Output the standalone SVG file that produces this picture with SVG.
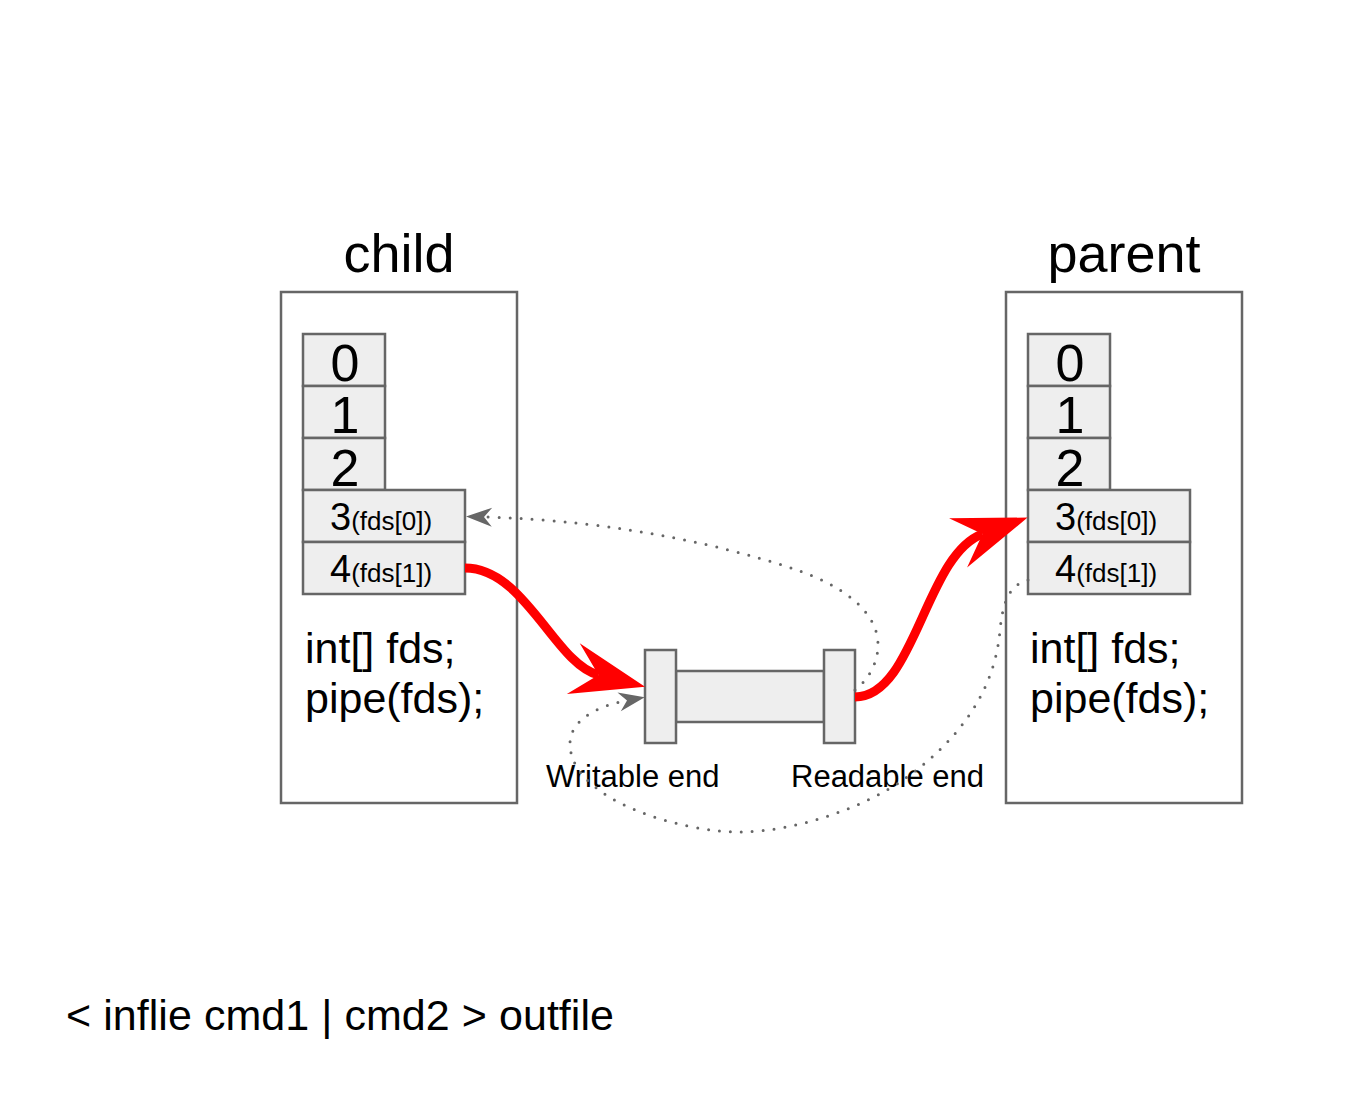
<svg xmlns="http://www.w3.org/2000/svg" width="1372" height="1108" viewBox="0 0 1372 1108">
  <style>
    text { font-family: "Liberation Sans", Arial, sans-serif; fill: #000; }
    .box { fill: #fff; stroke: #666; stroke-width: 2.5; }
    .cell { fill: #eee; stroke: #666; stroke-width: 2.5; }
    .title { font-size: 54px; text-anchor: middle; }
    .digit { font-size: 52px; text-anchor: middle; }
    .big { font-size: 38px; }
    .small { font-size: 26px; }
    .code { font-size: 43px; }
    .label { font-size: 31px; }
    .red { fill: none; stroke: #ff0000; stroke-width: 9; }
    .dot { fill: none; stroke: #666; stroke-width: 3; stroke-linecap: round; stroke-dasharray: 0 11; }
  </style>
  <defs>
    <marker id="redHead" markerUnits="userSpaceOnUse" orient="auto" refX="0" refY="0" viewBox="-30 -30 80 60" markerWidth="80" markerHeight="60" overflow="visible">
      <path d="M48,0 L-26,-26.3 L0,0 L-26,26.3 Z" fill="#ff0000"/>
    </marker>
    <marker id="grayHead" markerUnits="userSpaceOnUse" orient="auto" refX="0" refY="0" viewBox="-10 -10 30 20" markerWidth="30" markerHeight="20" overflow="visible">
      <path d="M18,0 L-8,-9.5 L0,0 L-8,9.5 Z" fill="#666"/>
    </marker>
  </defs>
  <rect width="1372" height="1108" fill="#fff"/>

  <g id="child">
    <text class="title" x="399" y="272">child</text>
    <rect class="box" x="281" y="292" width="236" height="511"/>
    <g id="child-fd0"><rect class="cell" x="303" y="334" width="82" height="52"/><text class="digit" x="345" y="381">0</text></g>
    <g id="child-fd1"><rect class="cell" x="303" y="386" width="82" height="52"/><text class="digit" x="345" y="433">1</text></g>
    <g id="child-fd2"><rect class="cell" x="303" y="438" width="82" height="52"/><text class="digit" x="345" y="486">2</text></g>
    <g id="child-fd3"><rect class="cell" x="303" y="490" width="162" height="52"/><text x="330" y="530"><tspan class="big">3</tspan><tspan class="small">(fds[0])</tspan></text></g>
    <g id="child-fd4"><rect class="cell" x="303" y="542" width="162" height="52"/><text x="330" y="582"><tspan class="big">4</tspan><tspan class="small">(fds[1])</tspan></text></g>
    <text class="code" x="305" y="663">int[] fds;</text>
    <text class="code" x="305" y="713">pipe(fds);</text>
  </g>

  <g id="parent">
    <text class="title" x="1124" y="272">parent</text>
    <rect class="box" x="1006" y="292" width="236" height="511"/>
    <g id="parent-fd0"><rect class="cell" x="1028" y="334" width="82" height="52"/><text class="digit" x="1070" y="381">0</text></g>
    <g id="parent-fd1"><rect class="cell" x="1028" y="386" width="82" height="52"/><text class="digit" x="1070" y="433">1</text></g>
    <g id="parent-fd2"><rect class="cell" x="1028" y="438" width="82" height="52"/><text class="digit" x="1070" y="486">2</text></g>
    <g id="parent-fd3"><rect class="cell" x="1028" y="490" width="162" height="52"/><text x="1055" y="530"><tspan class="big">3</tspan><tspan class="small">(fds[0])</tspan></text></g>
    <g id="parent-fd4"><rect class="cell" x="1028" y="542" width="162" height="52"/><text x="1055" y="582"><tspan class="big">4</tspan><tspan class="small">(fds[1])</tspan></text></g>
    <text class="code" x="1030" y="663">int[] fds;</text>
    <text class="code" x="1030" y="713">pipe(fds);</text>
  </g>

  <g id="pipe">
    <rect class="cell" x="676" y="671" width="148" height="51"/>
    <rect class="cell" x="645" y="650" width="31" height="93"/>
    <rect class="cell" x="824" y="650" width="31" height="93"/>
    <text class="label" x="546" y="787">Writable end</text>
    <text class="label" x="791" y="787">Readable end</text>
  </g>

  <g id="connectors">
    <path class="dot" d="M855,690 C868,680 878,663 878,645 C878,610 840,585 797,570 C740,550 620,520 484,517" marker-end="url(#grayHead)"/>
    <path class="dot" d="M1028,580 C1010,585 1003,600 1000,630 C995,690 960,740 903,780 C860,810 790,832 740,832 C680,832 572,800 570,745 C569,716 607,704 627,700.4" marker-end="url(#grayHead)"/>
    <path class="red" d="M465,568 C525,568 555,664 598.5,675" marker-end="url(#redHead)"/>
    <path class="red" d="M855,697 C915,697 925,555 982.5,534" marker-end="url(#redHead)"/>
  </g>

  <text id="command" class="code" x="66" y="1030" textLength="548">&lt; inflie cmd1 | cmd2 &gt; outfile</text>
</svg>
